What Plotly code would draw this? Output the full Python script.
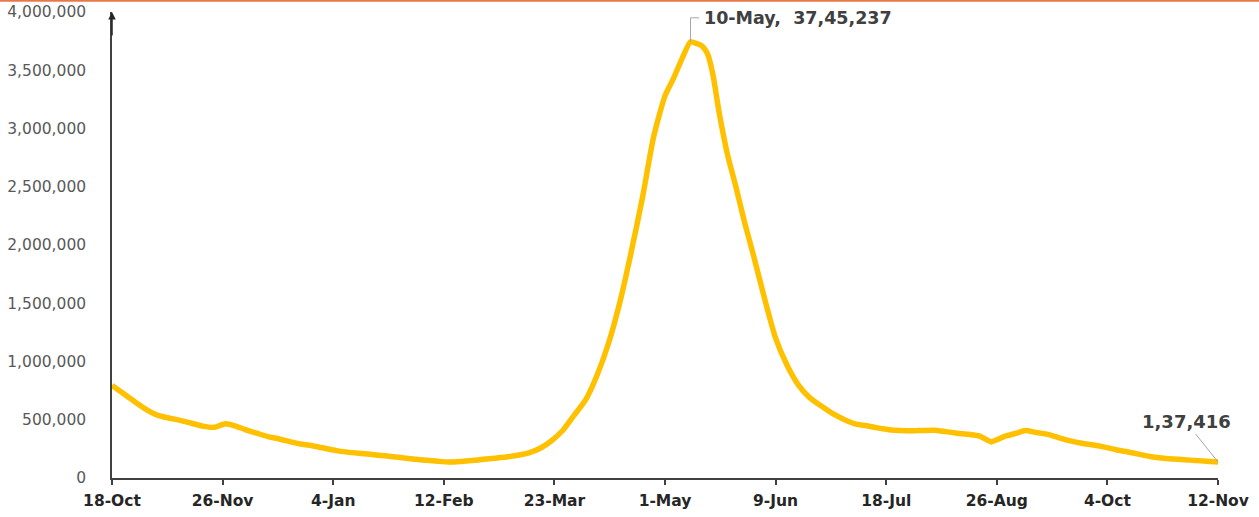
import plotly.graph_objects as go
import pandas as pd

dates = [
    "2020-10-18", "2020-10-22", "2020-10-26", "2020-10-30", "2020-11-03", "2020-11-07",
    "2020-11-11", "2020-11-15", "2020-11-19", "2020-11-23", "2020-11-27", "2020-11-30",
    "2020-12-04", "2020-12-08", "2020-12-12", "2020-12-16", "2020-12-20", "2020-12-24",
    "2020-12-28", "2021-01-01", "2021-01-05", "2021-01-09", "2021-01-13", "2021-01-17",
    "2021-01-21", "2021-01-25", "2021-01-29", "2021-02-02", "2021-02-06", "2021-02-10",
    "2021-02-14", "2021-02-18", "2021-02-22", "2021-02-26", "2021-03-02", "2021-03-06",
    "2021-03-10", "2021-03-14", "2021-03-18", "2021-03-22", "2021-03-26", "2021-03-30",
    "2021-04-03", "2021-04-07", "2021-04-11", "2021-04-15", "2021-04-19", "2021-04-23",
    "2021-04-27", "2021-05-01", "2021-05-04", "2021-05-07", "2021-05-10", "2021-05-12",
    "2021-05-14", "2021-05-16", "2021-05-18", "2021-05-20", "2021-05-23", "2021-05-26",
    "2021-05-29", "2021-06-01", "2021-06-05", "2021-06-09", "2021-06-13", "2021-06-17",
    "2021-06-21", "2021-06-25", "2021-06-29", "2021-07-03", "2021-07-07", "2021-07-11",
    "2021-07-15", "2021-07-19", "2021-07-23", "2021-07-27", "2021-07-31", "2021-08-04",
    "2021-08-08", "2021-08-12", "2021-08-16", "2021-08-20", "2021-08-24", "2021-08-26",
    "2021-08-29", "2021-09-02", "2021-09-05", "2021-09-09", "2021-09-13", "2021-09-17",
    "2021-09-21", "2021-09-25", "2021-09-29", "2021-10-03", "2021-10-07", "2021-10-11",
    "2021-10-15", "2021-10-19", "2021-10-23", "2021-10-27", "2021-10-31", "2021-11-04",
    "2021-11-08", "2021-11-12",
]

active_cases = [
    795000, 725000, 655000, 590000, 540000, 515000,
    495000, 470000, 445000, 435000, 465000, 450000,
    415000, 385000, 355000, 335000, 310000, 290000,
    275000, 255000, 235000, 222000, 212000, 203000,
    193000, 183000, 172000, 160000, 152000, 143000,
    137000, 142000, 150000, 160000, 170000, 180000,
    195000, 215000, 255000, 320000, 410000, 540000,
    670000, 880000, 1150000, 1500000, 1930000, 2400000,
    2930000, 3280000, 3430000, 3600000, 3745237, 3730000,
    3710000, 3640000, 3450000, 3150000, 2780000, 2500000,
    2200000, 1930000, 1550000, 1200000, 970000, 800000,
    690000, 620000, 555000, 505000, 465000, 448000,
    430000, 415000, 408000, 405000, 408000, 410000,
    398000, 385000, 375000, 360000, 310000, 328000,
    360000, 385000, 408000, 390000, 375000, 345000,
    318000, 298000, 283000, 265000, 243000, 225000,
    205000, 185000, 172000, 163000, 157000, 150000,
    144000, 137416,
]

tick_dates = ["2020-10-18", "2020-11-26", "2021-01-04", "2021-02-12", "2021-03-23",
              "2021-05-01", "2021-06-09", "2021-07-18", "2021-08-26", "2021-10-04",
              "2021-11-12"]
tick_labels = ["18-Oct", "26-Nov", "4-Jan", "12-Feb", "23-Mar", "1-May", "9-Jun",
               "18-Jul", "26-Aug", "4-Oct", "12-Nov"]

y_ticks = [0, 500000, 1000000, 1500000, 2000000, 2500000, 3000000, 3500000, 4000000]

peak_label = "10-May,  37,45,237"
last_label = "1,37,416"

x = pd.to_datetime(dates)
peak_i = max(range(len(active_cases)), key=lambda i: active_cases[i])
peak_x = x[peak_i]
peak_y = active_cases[peak_i]
label_y = 3950000

FONT = "DejaVu Sans"

fig = go.Figure()
fig.add_trace(go.Scatter(
    x=x, y=active_cases, mode="lines",
    line=dict(color="#FFC000", width=5.5, shape="spline", smoothing=0.6),
    hoverinfo="skip", showlegend=False,
))

# peak leader (elbow)
fig.add_shape(type="line", x0=peak_x, x1=peak_x, y0=peak_y, y1=label_y,
              line=dict(color="#A6A6A6", width=1))
fig.add_shape(type="line", x0=peak_x, x1=peak_x + pd.Timedelta(days=3), y0=label_y, y1=label_y,
              line=dict(color="#A6A6A6", width=1))
fig.add_annotation(x=peak_x, y=label_y, text=peak_label, showarrow=False,
                   xanchor="left", yanchor="middle", xshift=11,
                   font=dict(family=FONT, size=17.5, color="#404040", weight="bold"))

# last value label
fig.add_annotation(x=x[-1], y=active_cases[-1], text=last_label, showarrow=True,
                   arrowhead=0, arrowwidth=1, arrowcolor="#A6A6A6",
                   ax=-32, ay=-40,
                   font=dict(family=FONT, size=18, color="#404040", weight="bold"))

# y-axis arrowhead
fig.add_annotation(x=x[0], y=4000000, text="", showarrow=True, arrowhead=2,
                   arrowsize=1, arrowwidth=1.5, arrowcolor="#262626", ax=0, ay=25)

# thin orange rule at the very top
fig.add_shape(type="line", xref="paper", yref="paper", x0=-1, x1=2, y0=1.024, y1=1.024,
              line=dict(color="#E8784A", width=2))

fig.update_layout(
    width=1259, height=517,
    margin=dict(l=112, r=41, t=12, b=39),
    paper_bgcolor="white", plot_bgcolor="white",
    font=dict(family=FONT),
    xaxis=dict(
        range=[x[0], x[-1]], tickmode="array",
        tickvals=pd.to_datetime(tick_dates), ticktext=tick_labels,
        showgrid=False, zeroline=False, automargin=False,
        showline=True, linecolor="#404040", linewidth=1.5,
        ticks="outside", ticklen=5, tickcolor="#404040", tickwidth=1.5,
        tickfont=dict(family=FONT, size=15.5, color="#262626", weight="bold"),
        ticklabelstandoff=3,
    ),
    yaxis=dict(
        range=[0, 4000000], tickmode="array", tickvals=y_ticks,
        tickformat=",", showgrid=False, zeroline=False, automargin=False,
        showline=True, linecolor="#404040", linewidth=1.5,
        ticks="",
        tickfont=dict(family=FONT, size=15.5, color="#595959"),
        ticklabelstandoff=21,
    ),
)

fig.write_html("out.html", config={"displayModeBar": False},
               post_script="document.body.style.margin='0';")
